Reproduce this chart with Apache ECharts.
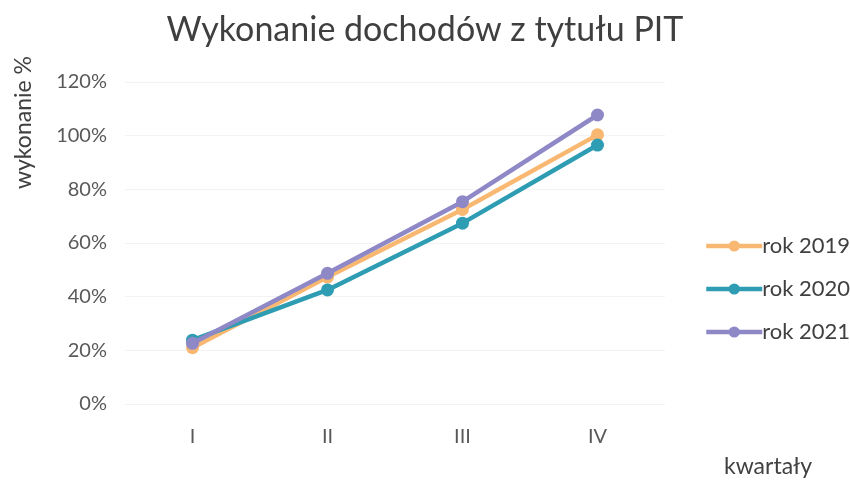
<!DOCTYPE html>
<html>
<head>
<meta charset="utf-8">
<script src="https://cdn.jsdelivr.net/npm/echarts@6/dist/echarts.min.js"></script>
<style>html,body{margin:0;padding:0;background:#fff}#c{width:850px;height:489px}</style>
</head>
<body>
<div id="c"></div>
<script>
const categories = ['I', 'II', 'III', 'IV'];
const seriesNames = ['rok 2019', 'rok 2020', 'rok 2021'];
const rok2019 = [21, 47.3, 72.5, 100.3];
const rok2020 = [23.8, 42.5, 67.4, 96.5];
const rok2021 = [22.6, 48.7, 75.4, 107.7];
const yTicks = [0, 20, 40, 60, 80, 100, 120];
const colors = ['#F9B872', '#2E9DB3', '#8F88C7'];

const font = 'Lato, "Open Sans", sans-serif';
const chart = echarts.init(document.getElementById('c'));
const mk = (name, data, i) => ({
  name, type: 'line', data,
  symbol: 'circle', symbolSize: 13,
  lineStyle: { width: 4.5, color: colors[i] },
  itemStyle: { color: colors[i] },
  z: 2 + (i === 2 ? 1 : 0)
});
chart.setOption({
  animation: false,
  title: {
    text: 'Wykonanie dochodów z tytułu PIT',
    left: 'center', top: 8,
    textStyle: { fontFamily: font, fontSize: 34, fontWeight: 'normal', color: '#3f3f3f' }
  },
  grid: { left: 125, right: 185, top: 82, bottom: 85 },
  legend: {
    orient: 'vertical', left: 699, top: 230, itemGap: 21,
    itemWidth: 56, itemHeight: 14,
    lineStyle: { width: 4.5 },
    textStyle: { fontFamily: font, fontSize: 22, color: '#404040', padding: [0, 0, 0, -5] },
    data: seriesNames
  },
  xAxis: {
    type: 'category', data: categories,
    axisLine: { show: false }, axisTick: { show: false },
    axisLabel: { fontFamily: font, fontSize: 20, color: '#595959', margin: 23 }
  },
  yAxis: {
    type: 'value', min: 0, max: 120, interval: 20,
    axisLine: { show: false }, axisTick: { show: false },
    splitLine: { lineStyle: { color: '#f3f3f3', width: 1 } },
    axisLabel: { fontFamily: font, fontSize: 20, color: '#595959', margin: 18,
      formatter: v => yTicks.includes(v) ? v + '%' : '' }
  },
  graphic: [
    { type: 'text', left: 12, top: 56, rotation: Math.PI / 2,
      style: { text: 'wykonanie %', fontFamily: font, fontSize: 23, fill: '#404040' } },
    { type: 'text', left: 724, top: 455,
      style: { text: 'kwartały', fontFamily: font, fontSize: 23, fill: '#404040' } }
  ],
  series: [mk(seriesNames[0], rok2019, 0), mk(seriesNames[1], rok2020, 1), mk(seriesNames[2], rok2021, 2)]
});
</script>
</body>
</html>
